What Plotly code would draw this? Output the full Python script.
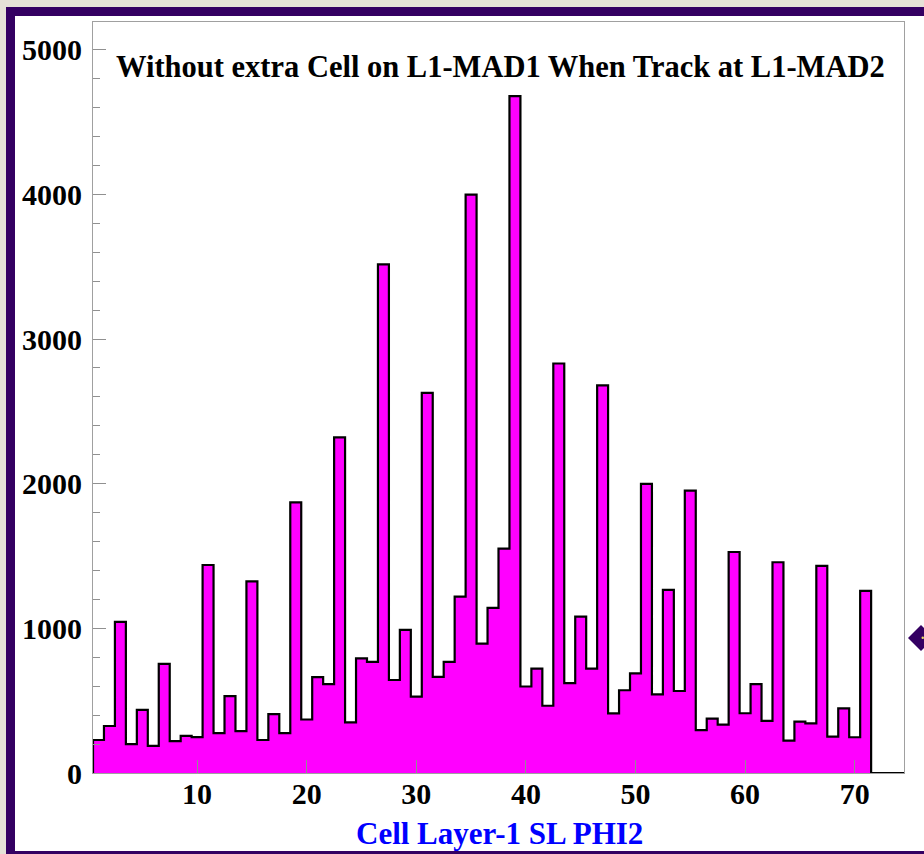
import plotly.graph_objects as go

# ---- data ----
cells = list(range(1, 72))
counts = [228, 325, 1045, 200, 436, 188, 754, 220, 256, 248,
          1438, 276, 532, 290, 1325, 228, 407, 276, 1871, 370,
          663, 615, 2321, 350, 792, 768, 3516, 643, 989, 528,
          2628, 665, 768, 1219, 3999, 895, 1142, 1551, 4680, 598,
          721, 465, 2831, 622, 1081, 721, 2680, 412, 572, 689,
          1999, 544, 1266, 567, 1952, 297, 376, 334, 1528, 413,
          615, 360, 1457, 224, 355, 343, 1432, 251, 447, 247, 1259]
x_ticks = [10, 20, 30, 40, 50, 60, 70]
y_ticks = [0, 1000, 2000, 3000, 4000, 5000]
title_text = "Without extra Cell on L1-MAD1 When Track at L1-MAD2"
xlabel_text = "Cell Layer-1 SL PHI2"
x_min, x_max = 0.5, 74.5
y_max = 5192

# ---- geometry ----
W, H = 924, 854
PL, PR, PT, PB = 93, 904, 22, 773


def px(x):
    return (x - PL) / (PR - PL)


def py(y):
    return (PB - y) / (PB - PT)


# step outline from bin edges
edges = [c - 0.5 for c in cells] + [cells[-1] + 0.5]
sx = [edges[0]] + edges + [x_max]
sy = [0] + counts + [0, 0]

fig = go.Figure()
fig.add_trace(go.Scatter(
    x=sx, y=sy, mode="lines", line=dict(shape="hv", color="black", width=2.2),
    fill="tozeroy", fillcolor="#ff00ff", hoverinfo="skip", showlegend=False))

serif = "Liberation Serif"
purple = "#340062"

shapes = [
    dict(type="rect", xref="paper", yref="paper", x0=px(6), x1=px(940), y0=py(7), y1=py(860),
         fillcolor=purple, line=dict(width=0), layer="below"),
    dict(type="rect", xref="paper", yref="paper", x0=px(15), x1=px(940), y0=py(16), y1=py(851),
         fillcolor="white", line=dict(width=0), layer="below"),
    dict(type="path", xref="paper", yref="paper",
         path=f"M {px(908)},{py(638)} L {px(921)},{py(625)} L {px(934)},{py(638)} L {px(921)},{py(651)} Z",
         fillcolor=purple, line=dict(width=0), layer="above"),
    dict(type="circle", xref="paper", yref="paper", x0=px(921.5), x1=px(924), y0=py(636.5), y1=py(639),
         fillcolor="#e8e060", line=dict(width=0), layer="above"),
]

annotations = [
    dict(text=f"<b>{title_text}</b>", xref="paper", yref="paper", x=px(501), y=py(67),
         xanchor="center", yanchor="middle", showarrow=False,
         font=dict(family=serif, size=30.5, color="black")),
    dict(text=f"<b>{xlabel_text}</b>", xref="paper", yref="paper", x=px(499), y=py(833),
         xanchor="center", yanchor="middle", showarrow=False,
         font=dict(family=serif, size=31, color="#0000ff")),
]

fig.update_layout(
    width=W, height=H,
    margin=dict(l=PL, r=W - PR, t=PT, b=H - PB, pad=0),
    paper_bgcolor="#e5e2d7", plot_bgcolor="white",
    shapes=shapes, annotations=annotations, showlegend=False,
)
fig.update_xaxes(
    range=[x_min, x_max], tickmode="array", tickvals=x_ticks, ticktext=[str(v) for v in x_ticks],
    ticks="inside", ticklen=13, tickwidth=1, tickcolor="#909090",
    showline=True, linecolor="#a0a0a0", linewidth=1, mirror=True,
    showgrid=False, zeroline=False, ticklabelstandoff=-6,
    tickfont=dict(family=serif, size=30, color="black", weight="bold"),
)
fig.update_yaxes(
    range=[0, y_max], tickmode="array", tickvals=y_ticks, ticktext=[str(v) for v in y_ticks],
    ticks="inside", ticklen=13, tickwidth=1, tickcolor="#909090",
    minor=dict(dtick=200, tick0=0, ticks="inside", ticklen=7, tickcolor="#909090", showgrid=False),
    showline=True, linecolor="#a0a0a0", linewidth=1, mirror=True,
    showgrid=False, zeroline=False, ticklabelstandoff=4,
    tickfont=dict(family=serif, size=30, color="black", weight="bold"),
)

fig.write_html("out.html")
